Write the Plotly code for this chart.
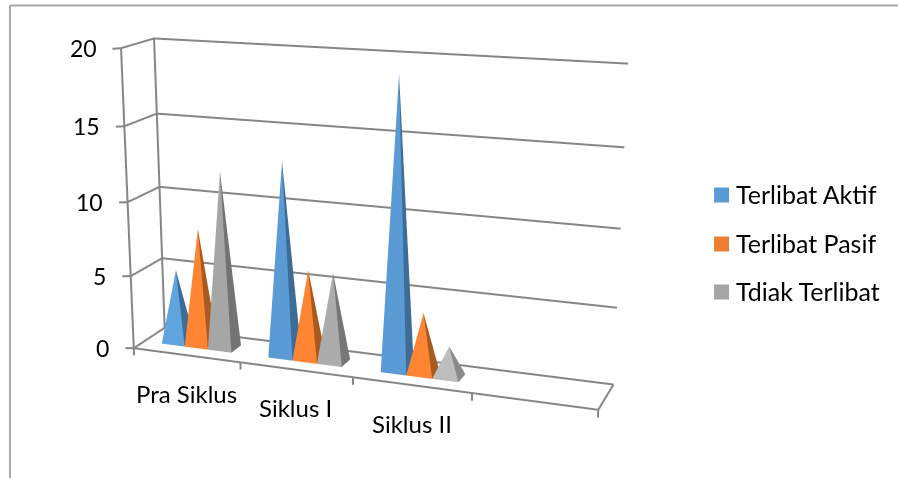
import numpy as np
import plotly.graph_objects as go

categories = ["Pra Siklus", "Siklus I", "Siklus II"]
series_names = ["Terlibat Aktif", "Terlibat Pasif", "Tdiak Terlibat"]
terlibat_aktif = [5, 13, 19]
terlibat_pasif = [8, 6, 4]
tidak_terlibat = [12, 6, 2]
value_ticks = [0, 5, 10, 15, 20]

# Camera of the scene, and the size/offset of the canvas that gives its narrow field of view
eye = dict(x=1.6210, y=-4.4137, z=1.2373)
center = dict(x=-0.1169, y=-0.0044, z=-0.0880)
up = dict(x=0.0071, y=-0.0012, z=1)
K, cx, cy = 1557.0, 330.0, 238.5
H = 2 * K * np.tan(np.pi / 8)
W = max(H, 2 * max(cx, 898 - cx) + 4)
left = cx - W / 2
top = cy - H / 2
x_range = [-0.4, 4.4]
y_range = [-0.2, 1.2]
z_range = [-2, 22]
asp = dict(x=1.5548 * 1.2, y=0.2228 * 1.4, z=1.2)


def px(x):
    return (x - left) / W


def py(y):
    return 1 - (y - top) / H


fig = go.Figure()
GRID = "#868686"


def line(xs, ys, zs, w=4):
    fig.add_trace(go.Scatter3d(x=xs, y=ys, z=zs, mode="lines", line=dict(color=GRID, width=w),
                               hoverinfo="skip", showlegend=False))


n_slots = 4
for v in value_ticks:
    line([-0.08, 0, 0, n_slots], [0, 0, 1, 1], [v - .07, v, v, v])
line([0, 0], [0, 0], [0, 20])
line([0, 0], [1, 1], [0, 20])
line([0, n_slots, n_slots], [0, 0, 1], [0, 0, 0])
for i in range(n_slots + 1):
    line([i, i], [0, 0], [0, -0.5])

front_colors = [["#5FA3DF", "#5B9BD5", "#5B9BD5"], ["#FF8533", "#FF8533", "#FF8533"], ["#A6A6A6", "#ACACAC", "#BDBDBD"]]
side_colors = [["#3D6C96", "#3D6C96", "#3D6C96"], ["#A85A20", "#A85A20", "#A85A20"], ["#737373", "#767676", "#8A8A8A"]]
vals = [terlibat_aktif, terlibat_pasif, tidak_terlibat]
W_B = .22
X0 = .17
Y0, Y1 = .33, .67
for s, vv in enumerate(vals):
    for k, val in enumerate(vv):
        cf, cs = front_colors[s][k], side_colors[s][k]
        x0 = k + X0 + s * W_B
        x1 = x0 + W_B
        xc = (x0 + x1) / 2
        yc = (Y0 + Y1) / 2
        fig.add_trace(go.Mesh3d(x=[x0, x1, x1, x0, xc], y=[Y0, Y0, Y1, Y1, yc], z=[0, 0, 0, 0, val],
                                i=[0, 1, 2, 3], j=[1, 2, 3, 0], k=[4, 4, 4, 4], facecolor=[cf, cs, cs, cf],
                                flatshading=True,
                                lighting=dict(ambient=1, diffuse=0, specular=0, roughness=1, fresnel=0),
                                hoverinfo="skip", showscale=False))

ann = [dict(x=i + .5, y=0, z=0, text=t, showarrow=False, yshift=-38, xshift=0,
            font=dict(family="Lato", size=24, color="#000")) for i, t in enumerate(categories)]
ann += [dict(x=0, y=0, z=v, text=str(v), showarrow=False, xanchor="right", xshift=-22.5, yshift=0.5,
             font=dict(family="Lato", size=23, color="#000")) for v in value_ticks]
ax = dict(visible=False, showgrid=False, zeroline=False, showspikes=False)
fig.update_layout(width=W, height=H, margin=dict(l=0, r=0, t=0, b=0), paper_bgcolor="white", showlegend=False,
                  scene=dict(domain=dict(x=[0, 1], y=[0, 1]), aspectmode="manual", aspectratio=asp,
                             camera=dict(eye=eye, center=center, up=up),
                             xaxis=dict(range=x_range, **ax), yaxis=dict(range=y_range, **ax),
                             zaxis=dict(range=z_range, **ax), annotations=ann),
                  dragmode=False)
shapes = [dict(type="line", xref="paper", yref="paper", x0=px(10), x1=px(898), y0=py(5), y1=py(5),
               line=dict(color="#A6A6A6", width=2)),
          dict(type="line", xref="paper", yref="paper", x0=px(10), x1=px(10), y0=py(5), y1=py(478),
               line=dict(color="#A6A6A6", width=2))]
legend_colors = ["#5B9BD5", "#ED7D31", "#A5A5A5"]
an2 = []
for nm, col, yc in zip(series_names, legend_colors, [194.5, 243.5, 291.5]):
    shapes.append(dict(type="rect", xref="paper", yref="paper", x0=px(714), x1=px(729), y0=py(yc + 7.5), y1=py(yc - 7.5),
                       fillcolor=col, line=dict(width=0)))
    an2.append(dict(xref="paper", yref="paper", x=px(734), y=py(yc - 1), xanchor="left", yanchor="middle", text=nm,
                    showarrow=False, font=dict(family="Lato", size=25, color="#000")))
fig.update_layout(shapes=shapes, annotations=an2)
post = ("document.documentElement.style.overflow='hidden';document.body.style.overflow='hidden';"
        "document.body.style.margin='0';var d=document.getElementById('{plot_id}');d.style.position='absolute';"
        f"d.style.left='{left:.1f}px';d.style.top='{top:.1f}px';")
fig.write_html("out.html", config=dict(displayModeBar=False), post_script=post)
